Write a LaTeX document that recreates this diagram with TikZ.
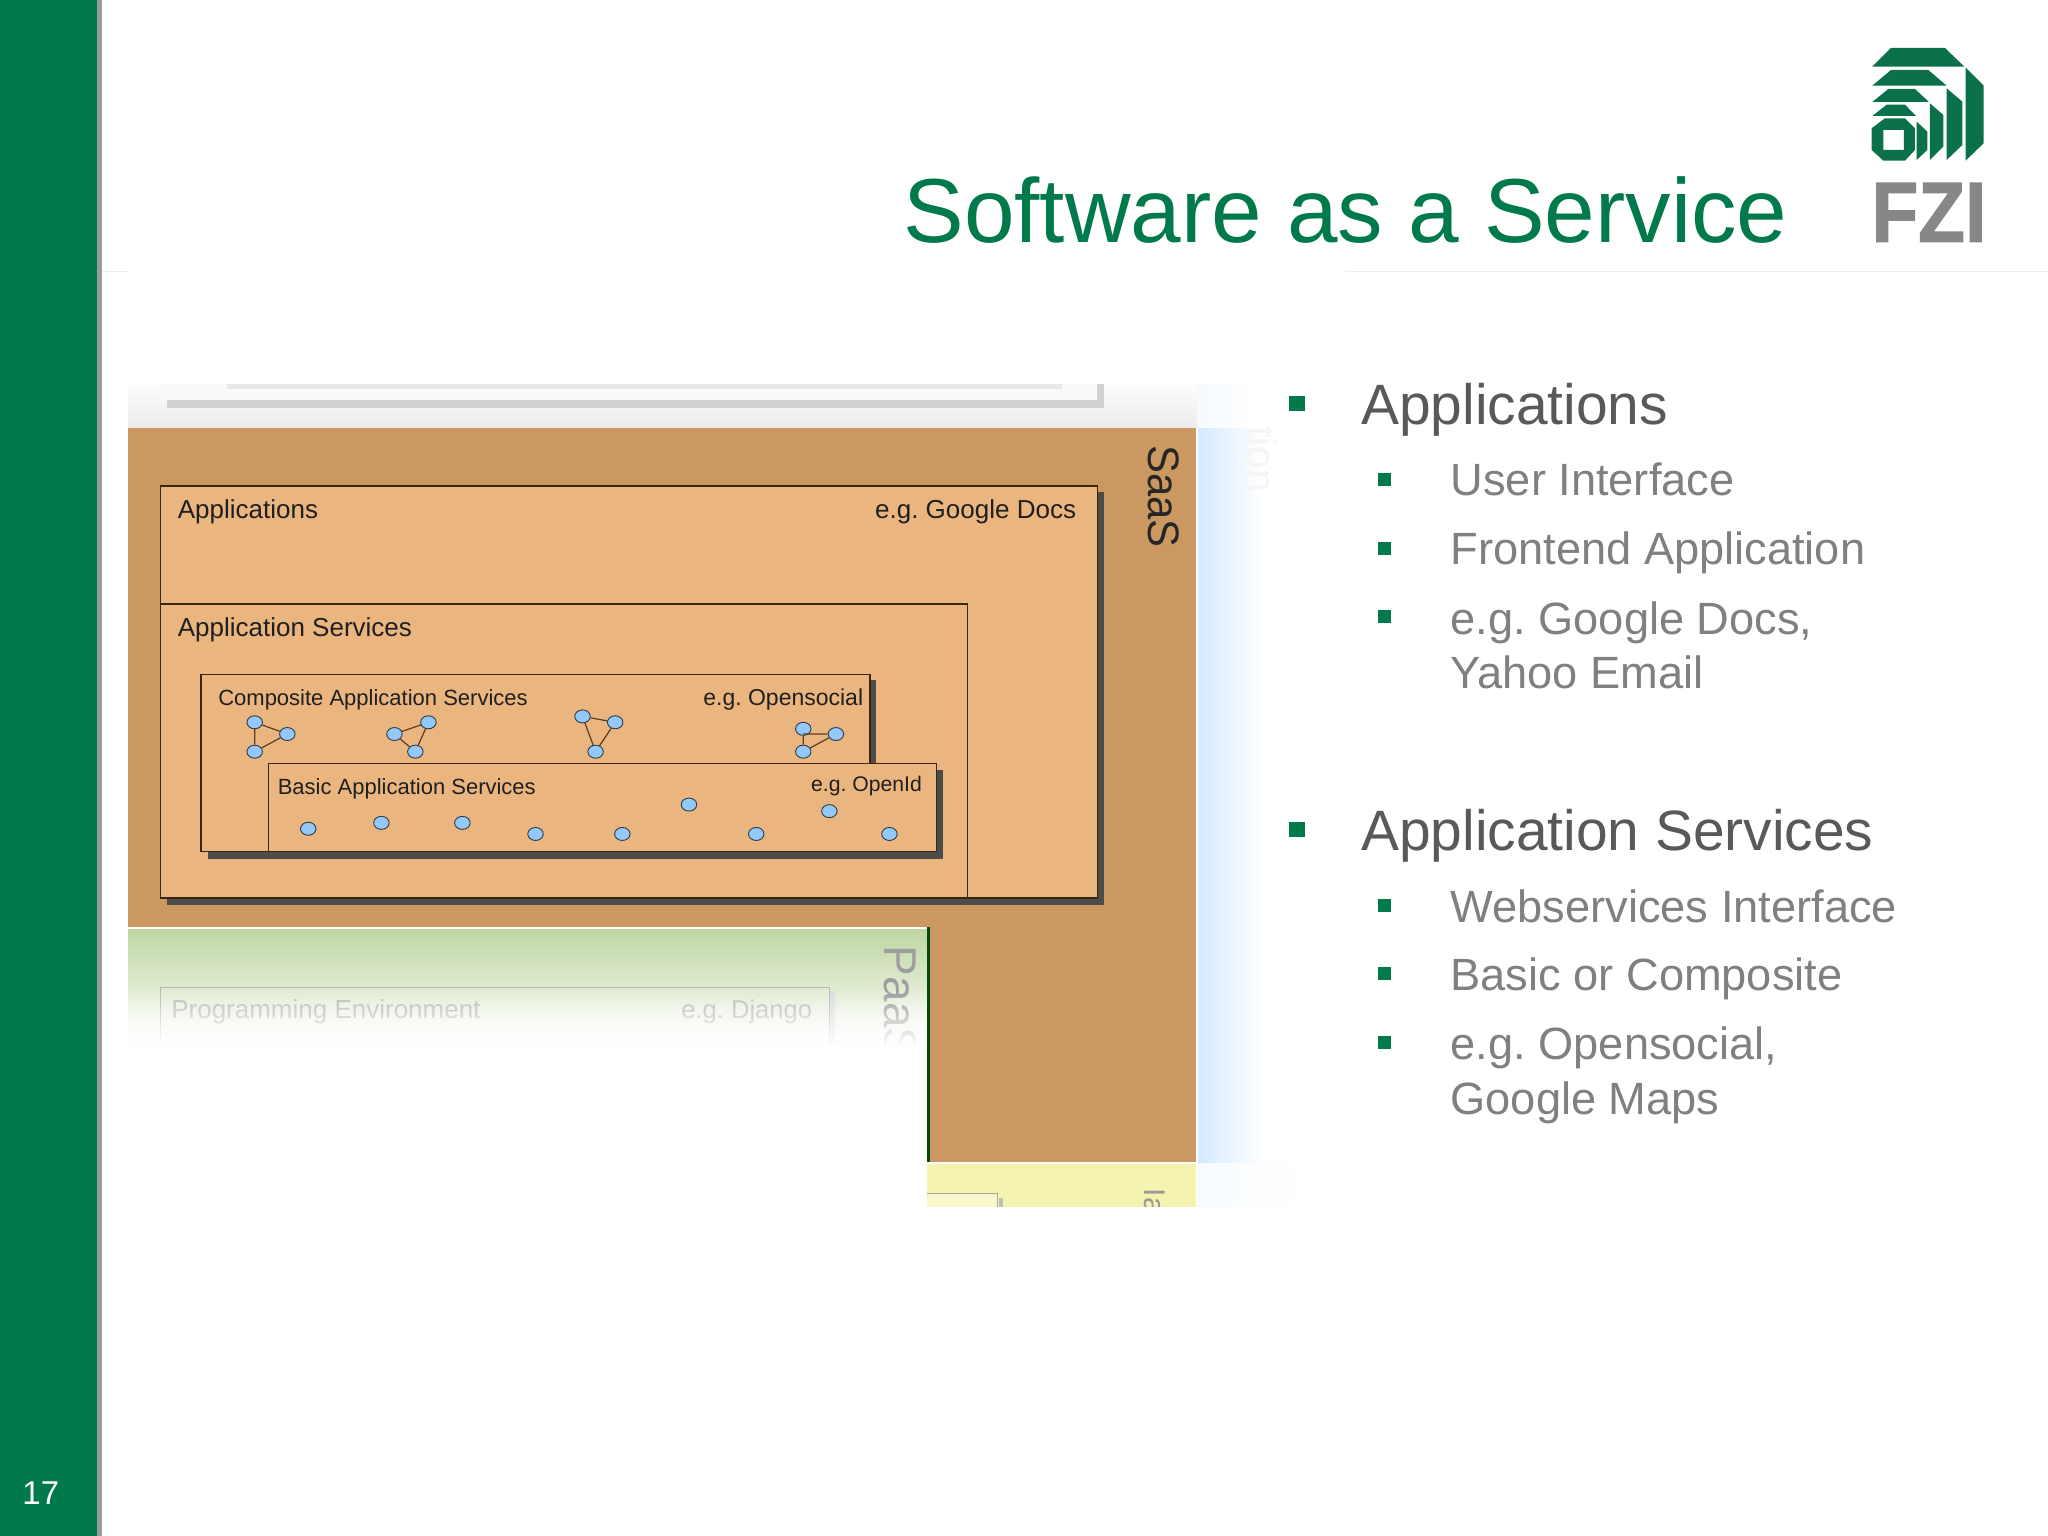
\documentclass[tikz,border=0pt]{standalone}
\usepackage{fontspec}
\setmainfont{Liberation Sans}
\newfontfamily\fzifont[FakeBold=1.6]{Liberation Sans Bold}
\usetikzlibrary{shapes.geometric,fadings}
\definecolor{fzigreen}{HTML}{007A4B}
\definecolor{logogreen}{HTML}{0B7149}
\definecolor{sidegray}{HTML}{9A9A9A}
\definecolor{panel}{HTML}{CA9860}
\definecolor{boxfill}{HTML}{EBB580}
\definecolor{boxline}{HTML}{3A2710}
\definecolor{shadowc}{HTML}{4E4B4B}
\definecolor{dotfill}{HTML}{93C8FA}
\definecolor{dotline}{HTML}{2F3A44}
\definecolor{edgec}{HTML}{5A3D1E}
\definecolor{maintext}{HTML}{595959}
\definecolor{subtext}{HTML}{808080}
\definecolor{ptop}{HTML}{BFD6A3}
\definecolor{pmid}{HTML}{DFE8D2}
\definecolor{ylw}{HTML}{F4F3B0}
\definecolor{ylwin}{HTML}{F8F8CC}
\newcommand{\sz}[1]{\fontsize{#1}{#1}\selectfont\frenchspacing}
\tikzset{
  lbl/.style={inner sep=0pt,anchor=base west},
  lble/.style={inner sep=0pt,anchor=base east},
  dia/.style={lbl,text=black!88,font=\sz{26}},
  diae/.style={lble,text=black!88,font=\sz{26}},
  dias/.style={lbl,text=black!88,font=\sz{22}},
  diase/.style={lble,text=black!88,font=\sz{21.2}},
  dotn/.style={ellipse,draw=dotline,line width=.9pt,fill=dotfill,inner sep=0pt,minimum width=15.5pt,minimum height=13pt},
  edgel/.style={draw=edgec,line width=1.2pt},
  mainitem/.style={lbl,text=maintext,font=\sz{56.9}},
  subitem/.style={lbl,text=subtext,font=\sz{45.2}},
  boxs/.style={draw=boxline,line width=1.3pt,fill=boxfill},
}
\newcommand{\bigbul}[1]{\fill[fzigreen] (987,#1-6) rectangle (999,#1+6);}
\newcommand{\smallbul}[1]{\fill[fzigreen] (1055,#1-5) rectangle (1065,#1+5);}
\begin{document}
\begin{tikzpicture}[x=1.30612pt,y=-1.30612pt]
\useasboundingbox (0,0) rectangle (1568,1176);
\fill[white] (0,0) rectangle (1568,1176);
% sidebar
\fill[sidegray] (74,0) rectangle (78,1176);
\fill[fzigreen] (0,0) rectangle (74,1176);
\node[lbl,text=white,font=\sz{33}] (pagenum) at (17,1152) {17};
% header rule
\fill[black!7] (78,207.5) rectangle (98,208.5);
\fill[black!7] (1030,207.5) rectangle (1568,208.5);
% title
\node[lbl,text=fzigreen,font=\sz{90.9}] (title) at (691.5,186) {Software as a Service};
% logo
\begin{scope}[shift={(1362.8,15.3)},x=0.3333pt,y=-0.3333pt]
\fill[logogreen] (277,140)--(333,84)--(495,84)--(553,140)--cycle;
\fill[logogreen] (277,197)--(333,150)--(445,150)--(500,197)--cycle;
\fill[logogreen] (277,246)--(325,207)--(405,207)--(447,246)--cycle;
\fill[logogreen] (277,288)--(320,254)--(375,254)--(408,288)--cycle;
\fill[logogreen] (557,143)--(611,197)--(611,370)--(557,422)--cycle;
\fill[logogreen] (500,205)--(547,245)--(547,375)--(500,420)--cycle;
\fill[logogreen] (450,250)--(490,285)--(490,380)--(450,420)--cycle;
\fill[logogreen] (410,305)--(442,335)--(442,390)--(410,420)--cycle;
\fill[logogreen,even odd rule] (275,325)--(315,295)--(375,295)--(405,325)--(405,390)--(375,422)--(310,422)--(275,390)--cycle
  (310,330)--(372,330)--(372,390)--(310,390)--cycle;
\node[lbl,text=black!47,font=\fzifont\sz{85}] (fzi) at (274,665) {\scalebox{0.9}[1]{FZI}};
\end{scope}
% top faded layer
\shade[top color=black!1,bottom color=black!8] (98,294) rectangle (916,328);
\fill[black!18] (128,294) rectangle (845,312.5);
\fill[black!2] (123,294) rectangle (840,306.5);
\fill[black!9] (174,294) rectangle (813,297.5);
% blue strip
\shade[left color=blue!50!cyan!17,right color=white] (917,328) rectangle (966,890);
\shade[left color=blue!50!cyan!4,right color=white] (917,294) rectangle (960,327);
\shade[left color=blue!50!cyan!3,right color=white] (917,891) rectangle (1000,924);
\node[inner sep=0pt,rotate=-90,anchor=base west,text=black!4,font=\sz{41}] (apptail) at (955,326) {tion};
% yellow layer
\fill[ylw] (710,890) rectangle (916,924);
\fill[ylwin] (710,914) rectangle (764,924);
\draw[black!35,line width=.8pt] (710,914)--(764,914)--(764,924);
\fill[black!25] (765,917) rectangle (768,924);
\begin{scope}
\clip (860,905) rectangle (916,924);
\node[inner sep=0pt,rotate=-90,anchor=base west,text=black!40,font=\sz{30}] (iaas) at (876,910) {IaaS};
\end{scope}
% SaaS panel
\fill[panel] (98,328) rectangle (916,890);
\fill[white] (915.5,328) rectangle (917,890);
\fill[white] (710,889.5) rectangle (917,891);
\node[inner sep=0pt,rotate=-90,anchor=base west,text=black!85,font=\sz{44}] (saas) at (879.5,341) {\scalebox{0.95}[1]{SaaS}};
% Applications
\fill[shadowc] (128,377) rectangle (845.5,693);
\filldraw[boxs] (123,372) rectangle (840,687.5);
\node[dia] (apps) at (136,397) {Applications};
\node[diae] (appseg) at (824,397) {e.g. Google Docs};
% Application services
\filldraw[boxs] (123,462.5) rectangle (741,687.5);
\node[dia] (asvc) at (136,487) {Application Services};
% Composite
\fill[shadowc] (159,521) rectangle (671,657.5);
\filldraw[boxs] (154,516.5) rectangle (666,652);
\node[dias] (comp) at (167,540) {Composite Application Services};
\node[lble,text=black!88,font=\sz{23}] (compeg) at (661,540) {e.g. Opensocial};
\node[dotn] (a1) at (195,553) {};
\node[dotn] (a2) at (220,562) {};
\node[dotn] (a3) at (195,575.5) {};
\draw[edgel] (a1)--(a2) (a2)--(a3) (a1)--(a3);
\node[dotn] (b1) at (302,562) {};
\node[dotn] (b2) at (328,553) {};
\node[dotn] (b3) at (318,575.5) {};
\draw[edgel] (b1)--(b2) (b1)--(b3) (b2)--(b3);
\node[dotn] (c1) at (446,548.5) {};
\node[dotn] (c2) at (471,553) {};
\node[dotn] (c3) at (456,575.5) {};
\draw[edgel] (c1)--(c2) (c1)--(c3) (c2)--(c3);
\node[dotn] (d1) at (615,558) {};
\node[dotn] (d2) at (640,562) {};
\node[dotn] (d3) at (615,575.5) {};
\draw[edgel] (d1)--(d3) (d1 |- d2)--(d2) (d2)--(d3);
% Basic
\fill[shadowc] (210.5,589.5) rectangle (722,658);
\filldraw[boxs] (205.5,584.5) rectangle (717,652);
\node[dias] (basic) at (212.5,608) {Basic Application Services};
\node[diase] (basiceg) at (706,606) {e.g. OpenId};
\node[dotn] (e1) at (236,634.5) {};
\node[dotn] (e2) at (292,630) {};
\node[dotn] (e3) at (354,630) {};
\node[dotn] (e4) at (410,638.5) {};
\node[dotn] (e5) at (476.5,638.5) {};
\node[dotn] (e6) at (527.5,616) {};
\node[dotn] (e7) at (579,638.5) {};
\node[dotn] (e8) at (635,621) {};
\node[dotn] (e9) at (681,638.5) {};
% PaaS layer
\fill[white] (98,710) rectangle (710,890);
\shade[top color=ptop,middle color=pmid,bottom color=white] (98,711) rectangle (710,802);
\fill[white] (98,709.5) rectangle (710,711);
\fill[green!30!black] (710,710) rectangle (712,890);
\draw[black!28,line width=1pt] (123,800)--(123,756)--(635,756)--(635,800);
\fill[black!14] (635.5,759) rectangle (639,800);
\node[lbl,text=black!28,font=\sz{26}] (prog) at (131,780) {Programming Environment};
\node[lble,text=black!28,font=\sz{25.6}] (progeg) at (622,780) {e.g. Django};
\node[inner sep=0pt,rotate=-90,anchor=base west,text=black!38,font=\sz{46}] (paas) at (677,724) {PaaS};
\fill[white,path fading=north] (98,758) rectangle (710,801);
\fill[white] (98,800.5) rectangle (709.5,825);
% right text
\bigbul{309}
\node[mainitem] (m1) at (1042,325) {Applications};
\smallbul{367}
\node[subitem] (s1) at (1110.5,379.5) {User Interface};
\smallbul{420}
\node[subitem] (s2) at (1110.5,432.5) {Frontend Application};
\smallbul{472}
\node[subitem] (s3) at (1110.5,485.5) {e.g. Google Docs,};
\node[subitem] (s3b) at (1110.5,527.5) {Yahoo Email};
\bigbul{635}
\node[mainitem] (m2) at (1042,651) {Application Services};
\smallbul{693}
\node[subitem] (s4) at (1110.5,706.5) {Webservices Interface};
\smallbul{745}
\node[subitem] (s5) at (1110.5,758.5) {Basic or Composite};
\smallbul{798}
\node[subitem] (s6) at (1110.5,811.5) {e.g. Opensocial,};
\node[subitem] (s6b) at (1110.5,853.5) {Google Maps};
\end{tikzpicture}
\end{document}
